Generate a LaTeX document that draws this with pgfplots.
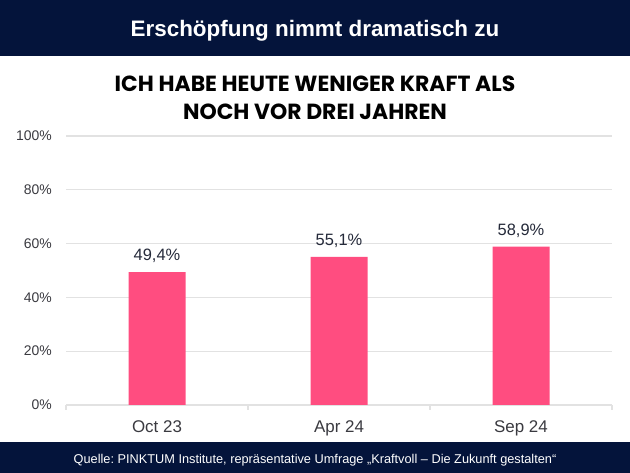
\documentclass[border=0pt]{standalone}
\usepackage{pgfplots}
\pgfplotsset{compat=1.18}
\usepackage{fontspec}
\setmainfont{Liberation Sans}
\newfontfamily\titlefont{Poppins}
\definecolor{navy}{HTML}{04143B}
\definecolor{pinkbar}{HTML}{FF4D80}
\definecolor{gridgray}{HTML}{E2E2E2}
\definecolor{txt}{HTML}{252A3A}
\definecolor{ticktxt}{HTML}{3A3A40}
\frenchspacing
\begin{document}
\begin{tikzpicture}[x=1bp,y=1bp]
\fill[white] (0,0) rectangle (630,473);
\fill[navy] (0,417) rectangle (630,473);
\fill[navy] (0,0) rectangle (630,31);
\node[anchor=base, text=white, inner sep=0pt, font=\fontsize{22.5}{26}\selectfont\bfseries] at (315,436.5) {Erschöpfung nimmt dramatisch zu};
\node[anchor=base, text=black, inner sep=0pt, font=\fontsize{22}{26}\selectfont\titlefont\bfseries] at (315,381) {ICH HABE HEUTE WENIGER KRAFT ALS};
\node[anchor=base, text=black, inner sep=0pt, font=\fontsize{22}{26}\selectfont\titlefont\bfseries] at (315,353) {NOCH VOR DREI JAHREN};
\node[anchor=base, text=white, inner sep=0pt, font=\fontsize{12.8}{15}\selectfont] at (315,9) {Quelle: PINKTUM Institute, repräsentative Umfrage „Kraftvoll – Die Zukunft gestalten“};
\begin{axis}[
  at={(66bp,68bp)}, anchor=south west,
  scale only axis, width=546bp, height=269bp,
  xmin=-0.5, xmax=2.5, ymin=0, ymax=100,
  axis line style={draw=none},
  ymajorgrids, major grid style={draw=gridgray, line width=1.3bp},
  xtick={0,1,2}, xticklabels={Oct 23, Apr 24, Sep 24},
  ytick={0,20,40,60,80,100}, yticklabels={0\%,20\%,40\%,60\%,80\%,100\%},
  xtick pos=lower, ytick pos=left,
  tick style={draw=gridgray, line width=1.3bp},
  major tick length=0pt,
  extra x ticks={-0.5,0.5,1.5,2.5}, extra x tick labels={},
  extra x tick style={major tick length=5bp, tick align=outside, grid=none, xtick pos=lower},
  xticklabel style={anchor=base, yshift=-28bp, inner sep=0pt, font=\fontsize{17}{20}\selectfont, text=ticktxt},
  yticklabel style={anchor=east, xshift=-14bp, inner sep=0pt, font=\fontsize{14}{17}\selectfont, text=ticktxt},
  ybar, bar width=57bp,
  nodes near coords, point meta=explicit symbolic,
  every node near coord/.append style={anchor=base, yshift=11.5bp, inner sep=0pt, font=\fontsize{16.5}{19}\selectfont, text=txt},
  clip=false,
]
\addplot[fill=pinkbar, draw=none] coordinates {(0,49.4) [49,4\%] (1,55.1) [55,1\%] (2,58.9) [58,9\%]};
\end{axis}
\end{tikzpicture}
\end{document}
